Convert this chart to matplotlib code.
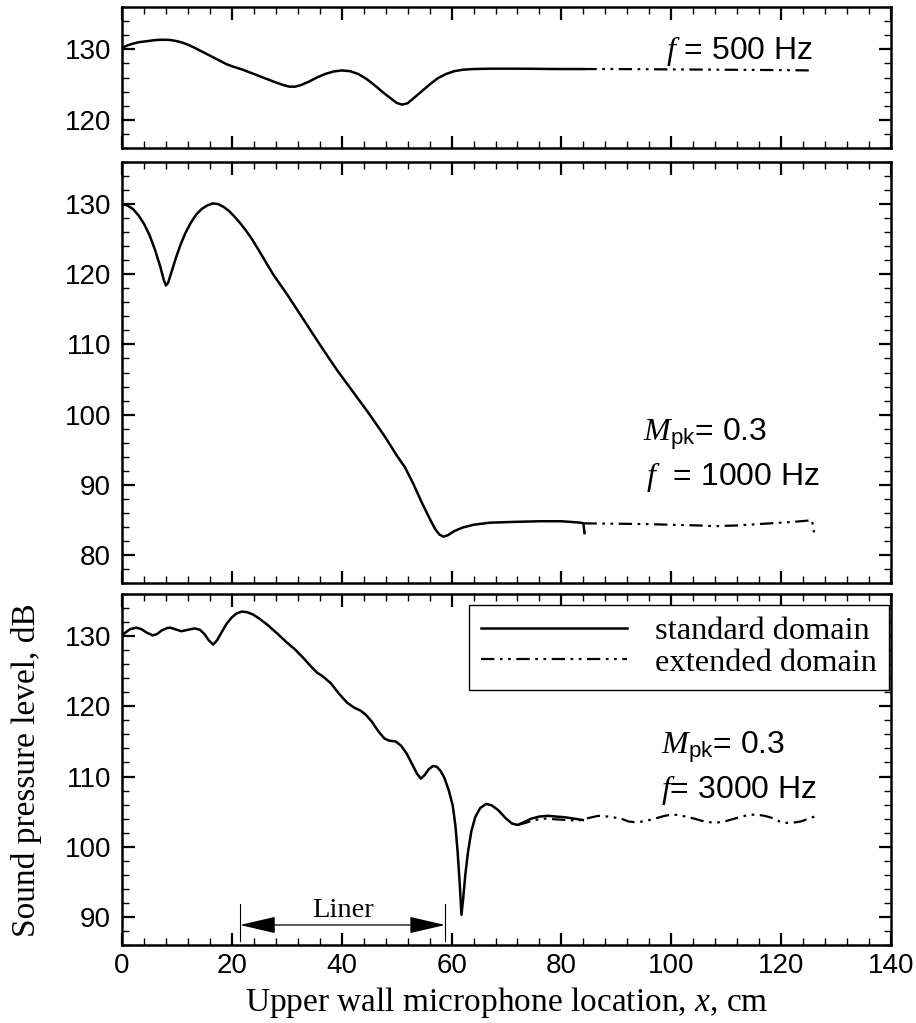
import matplotlib
matplotlib.use('Agg')
import matplotlib.pyplot as plt
from matplotlib.ticker import MultipleLocator

plt.rcParams['font.family'] = ['Liberation Sans', 'DejaVu Sans']
plt.rcParams['mathtext.fontset'] = 'custom'
plt.rcParams['mathtext.it'] = 'Liberation Serif:italic'
plt.rcParams['mathtext.rm'] = 'Liberation Sans'
plt.rcParams['mathtext.sf'] = 'Liberation Sans'

# f = 500 Hz
x500_std = [0, 1, 2, 3, 4, 5, 6, 7, 8, 9, 10, 11, 12, 13, 14, 15, 16, 17, 18, 19, 20, 22, 24,
            26, 28, 29.5, 30.5, 31.5, 32.5, 34, 35.5, 37, 38.5, 40, 41.5, 43, 44.5, 46, 47.5,
            49, 50, 51, 52, 53, 54.5, 56, 57.5, 59, 60.5, 62, 64, 67, 72, 80, 84]
y500_std = [130.2, 130.55, 130.8, 131.0, 131.1, 131.2, 131.3, 131.35, 131.35, 131.3, 131.15,
            130.95, 130.65, 130.3, 129.9, 129.5, 129.1, 128.7, 128.3, 127.9, 127.6, 127.1,
            126.5, 125.9, 125.3, 124.9, 124.7, 124.7, 124.9, 125.4, 126.0, 126.5, 126.85,
            127.0, 126.9, 126.5, 125.8, 124.9, 123.9, 123.0, 122.4, 122.15, 122.35, 123.0,
            124.0, 125.0, 125.9, 126.5, 126.9, 127.1, 127.2, 127.25, 127.25, 127.2, 127.2]
x500_ext = [84, 90, 100, 110, 120, 126]
y500_ext = [127.2, 127.2, 127.15, 127.1, 127.05, 127.0]

# f = 1000 Hz
x1000_std = [0, 1, 2, 3, 4, 5, 6, 7, 7.6, 8.0, 8.4, 9.0, 9.8, 10.6, 11.5, 12.5, 13.5, 14.5,
             15.5, 16.5, 17.5, 18.5, 19.5, 20.5, 21.5, 22.5, 23.5, 25, 27.5, 30, 33, 36, 39,
             42, 45, 48, 50, 51.5, 53, 54.5, 56, 57, 57.8, 58.5, 59.3, 60.5, 62, 64, 67, 71,
             76, 80, 83.5, 84, 84.2]
y1000_std = [130.0, 129.8, 129.3, 128.4, 127.2, 125.6, 123.5, 121.0, 119.2, 118.4, 118.8,
             120.3, 122.3, 124.1, 125.8, 127.3, 128.5, 129.3, 129.8, 130.1, 130.0, 129.6,
             129.0, 128.2, 127.3, 126.3, 125.2, 123.3, 120.0, 117.2, 113.6, 110.0, 106.5,
             103.3, 100.1, 96.7, 94.2, 92.5, 90.2, 87.6, 85.2, 83.7, 82.9, 82.6, 82.8, 83.4,
             83.9, 84.3, 84.6, 84.7, 84.8, 84.8, 84.6, 84.5, 83.1]
x1000_ext = [84, 90, 95, 100, 105, 108, 112, 118, 122, 125, 125.6, 126]
y1000_ext = [84.5, 84.45, 84.4, 84.3, 84.2, 84.1, 84.2, 84.5, 84.7, 84.9, 85.0, 83.2]

# f = 3000 Hz
x3000_std = [0, 0.6, 1.5, 2.6, 3.5, 4.5, 5.6, 6.4, 7.2, 8.2, 8.8, 9.6, 10.8, 12, 13.2, 14.2,
             15, 15.8, 16.6, 17.3, 18.1, 19, 19.9, 20.8, 21.8, 22.8, 23.8, 25, 26.5, 28.5, 30,
             31.5, 33, 34.5, 35.5, 36.5, 38, 39.5, 41, 42.3, 43.4, 44.4, 45.5, 46.7, 47.8,
             48.7, 49.8, 50.8, 51.8, 52.8, 53.7, 54.4, 55.1, 55.8, 56.6, 57.3, 58.0, 58.7,
             59.5, 60.2, 60.7, 61.1, 61.5, 61.8, 62.1, 62.5, 63.0, 63.6, 64.3, 65.2, 66.3,
             67.3, 68.5, 69.8, 71.0, 72.0, 73.2, 74.5, 76, 77.6, 79, 80.6, 82.3, 83.9]
y3000_std = [130.0, 130.5, 131.0, 131.2, 131.0, 130.5, 130.1, 130.3, 130.8, 131.15, 131.2,
             131.0, 130.7, 130.9, 131.1, 130.9, 130.3, 129.4, 128.8, 129.4, 130.5, 131.7,
             132.6, 133.2, 133.5, 133.4, 133.1, 132.5, 131.6, 130.2, 129.1, 128.1, 126.9,
             125.6, 124.8, 124.3, 123.3, 121.8, 120.5, 119.8, 119.4, 118.8, 117.8, 116.4,
             115.4, 115.1, 115.0, 114.4, 113.3, 111.8, 110.4, 109.7, 110.2, 111.0, 111.5,
             111.4, 110.8, 109.8, 108.0, 105.9, 103.0, 99.3, 94.5, 90.3, 92.5, 96.0, 99.3,
             102.2, 104.2, 105.5, 106.1, 105.9, 105.2, 104.1, 103.3, 103.1, 103.5, 104.0,
             104.3, 104.4, 104.3, 104.2, 104.0, 103.8]
x3000_ext = [72, 73.5, 75, 77, 79, 81, 83, 85, 86.7, 88.5, 90.9, 92.2, 93.3, 95, 97, 98.8,
             100.3, 102, 104.2, 106, 107.9, 109.7, 111.5, 113.4, 115.2, 117, 118.8, 119.7,
             120.6, 122, 123.6, 125, 126.1]
y3000_ext = [103.1, 103.4, 103.8, 104.0, 103.9, 103.8, 103.7, 104.1, 104.4, 104.3, 104.0,
             103.6, 103.5, 103.6, 104.0, 104.4, 104.6, 104.4, 104.0, 103.6, 103.4, 103.6,
             104.0, 104.4, 104.6, 104.4, 104.0, 103.6, 103.4, 103.4, 103.6, 104.0, 104.3]

liner_start, liner_end = 21.5, 58.8
dashdotdot = (0, (6, 2.5, 1.2, 2.5, 1.2, 2.5))

W, H = 916, 1023
fig = plt.figure(figsize=(W / 100, H / 100), dpi=100)
left, right = 122 / W, 891 / W
# (top px, bottom px) of each panel
panels_px = [(7, 148), (162, 583), (594, 945)]
ylims = [(116, 136), (76, 136), (86, 136)]
axes = []
for (t, b) in panels_px:
    ax = fig.add_axes([left, 1 - b / H, right - left, (b - t) / H])
    axes.append(ax)

for ax, yl in zip(axes, ylims):
    ax.set_xlim(0, 140)
    ax.set_ylim(*yl)
    ax.xaxis.set_major_locator(MultipleLocator(20))
    ax.xaxis.set_minor_locator(MultipleLocator(4))
    ax.yaxis.set_major_locator(MultipleLocator(10))
    ax.yaxis.set_minor_locator(MultipleLocator(2))
    ax.tick_params(which='both', direction='in', top=True, right=True, labelsize=20, pad=8)
    ax.tick_params(which='major', length=9, width=1.6)
    ax.tick_params(which='minor', length=5, width=1.0)
    for s in ax.spines.values():
        s.set_linewidth(1.8)

ax1, ax2, ax3 = axes
ax1.tick_params(labelbottom=False)
ax2.tick_params(labelbottom=False)
ax3.tick_params(axis='x', pad=6)

lw = 1.8
lw_ext = 1.6
ax1.plot(x500_std, y500_std, color='black', lw=lw)
ax1.plot(x500_ext, y500_ext, color='black', lw=lw_ext, linestyle=dashdotdot)
ax2.plot(x1000_std, y1000_std, color='black', lw=lw)
ax2.plot(x1000_ext, y1000_ext, color='black', lw=lw_ext, linestyle=dashdotdot)
ax3.plot(x3000_std, y3000_std, color='black', lw=lw, label='standard domain')
ax3.plot(x3000_ext, y3000_ext, color='black', lw=lw_ext, linestyle=dashdotdot,
         label='extended domain')

fs_note = 23
ax1.text(99.0, 128.6, r'$\mathit{f}$ = 500 Hz', fontsize=fs_note)
ax2.text(94.9, 96.3, r'$\mathit{M}_{\mathrm{pk}}$= 0.3', fontsize=fs_note)
ax2.text(95.4, 89.9, r'$\mathit{f}$  = 1000 Hz', fontsize=fs_note)
ax3.text(98.2, 113.3, r'$\mathit{M}_{\mathrm{pk}}$= 0.3', fontsize=fs_note)
ax3.text(98.2, 107.0, r'$\mathit{f}$= 3000 Hz', fontsize=fs_note)

# liner extent
for xv in (liner_start, liner_end):
    ax3.plot([xv, xv], [86.55, 91.8], color='black', lw=0.8)
ax3.annotate('', xy=(liner_start, 88.85), xytext=(liner_end, 88.85),
             arrowprops=dict(arrowstyle='<|-|>,head_length=1.5,head_width=0.35',
                             color='black', lw=0.9, shrinkA=0, shrinkB=0, mutation_scale=15))
ax3.text((liner_start + liner_end) / 2, 90.0, 'Liner', family='Liberation Serif',
         fontsize=20.5, ha='center', va='baseline')

leg = ax3.legend(loc='upper right', bbox_to_anchor=(139.6, 134.5),
                 bbox_transform=ax3.transData, borderaxespad=0, borderpad=0.38,
                 handlelength=4.5, handletextpad=0.85, labelspacing=0.05,
                 prop={'family': 'Liberation Serif', 'size': 23.3}, fancybox=False,
                 framealpha=1, edgecolor='black')
leg.get_frame().set_linewidth(1.0)

fig.text(27 / W, 1 - 770 / H, 'Sound pressure level, dB', rotation=90, ha='center',
         va='center', family='Liberation Serif', fontsize=24)
fig.text((left + right) / 2, 1 - 1002 / H, r'Upper wall microphone location, $\mathit{x}$, cm',
         ha='center', va='center', family='Liberation Serif', fontsize=24)

fig.savefig('out.png', dpi=100)
